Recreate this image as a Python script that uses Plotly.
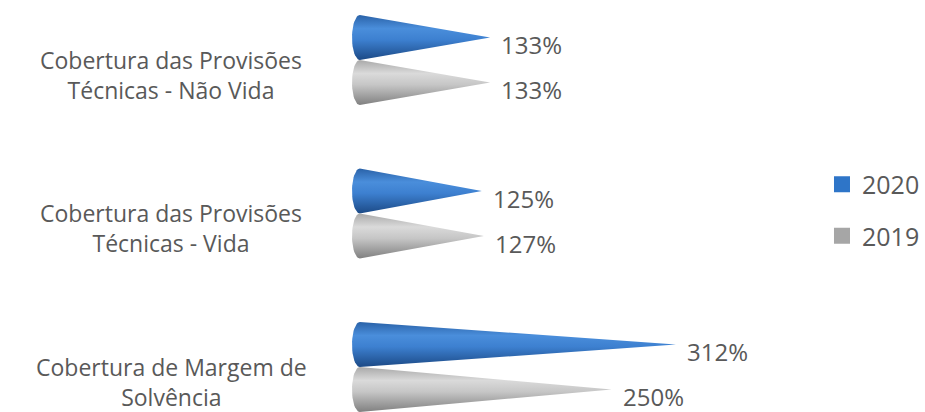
import numpy as np
import plotly.graph_objects as go

categories = ["Cobertura das Provisões<br>Técnicas - Não Vida",
              "Cobertura das Provisões<br>Técnicas - Vida",
              "Cobertura de Margem de<br>Solvência"]
years = ["2020", "2019"]
values_2020 = [133, 125, 312]
values_2019 = [133, 127, 250]
value_labels_2020 = ["133%", "125%", "312%"]
value_labels_2019 = ["133%", "127%", "250%"]

series = [
    ("2020", values_2020, value_labels_2020,
     [[0, "#2a62a8"], [0.3, "#4a8edb"], [0.55, "#3d80d0"], [1, "#1c4a86"]], "#2e75c8", -1),
    ("2019", values_2019, value_labels_2019,
     [[0, "#a9a9a9"], [0.3, "#dadada"], [0.55, "#c6c6c6"], [1, "#808080"]], "#a6a6a6", 1),
]

H = 0.293      # cone height (axis units)
RX = 7.5       # base ellipse horizontal radius (axis units)
font_family = "Open Sans, Liberation Sans, sans-serif"
txt_color = "#595959"

fig = go.Figure()
annotations = []
for name, vals, labs, cscale, legcol, side in series:
    for i, v in enumerate(vals):
        if side < 0:
            top, bot = i - H, i
        else:
            top, bot = i, i + H
        mid = (top + bot) / 2
        t = np.linspace(-np.pi / 2, np.pi / 2, 25)
        ex = RX - RX * np.cos(t)
        ey = mid + (H / 2) * np.sin(t)
        xs = list(ex) + [v, ex[0]]
        ys = list(ey) + [mid, ey[0]]
        fig.add_trace(go.Scatter(
            x=xs, y=ys, mode="lines", fill="toself",
            line=dict(width=0, color=legcol),
            fillgradient=dict(type="vertical", colorscale=cscale, start=top, stop=bot),
            showlegend=False, hoverinfo="skip"))
        annotations.append(dict(x=v, y=mid, xref="x", yref="y", text=labs[i],
                                showarrow=False, xanchor="left", xshift=9, yshift=-7,
                                font=dict(size=24, color=txt_color, family=font_family)))
    fig.add_trace(go.Scatter(x=[None], y=[None], mode="markers", name=name,
                             legendgroup=name,
                             marker=dict(symbol="square", size=16, color=legcol)))

for i, c in enumerate(categories):
    annotations.append(dict(x=-0.318, y=i + 0.095, xref="paper", yref="y", text=c,
                            showarrow=False, xanchor="center", yanchor="middle", align="center",
                            font=dict(size=23, color=txt_color, family=font_family)))

fig.update_layout(
    width=925, height=412,
    margin=dict(l=352, r=0, t=0, b=0),
    paper_bgcolor="white", plot_bgcolor="white",
    xaxis=dict(range=[0, 548], visible=False),
    yaxis=dict(range=[2.293, -0.391], visible=False),
    showlegend=True,
    legend=dict(x=0.826, y=0.49, xanchor="left", yanchor="middle",
                font=dict(size=25, color=txt_color, family=font_family),
                tracegroupgap=16, bgcolor="rgba(0,0,0,0)"),
    annotations=annotations,
)
fig.write_html("out.html")
